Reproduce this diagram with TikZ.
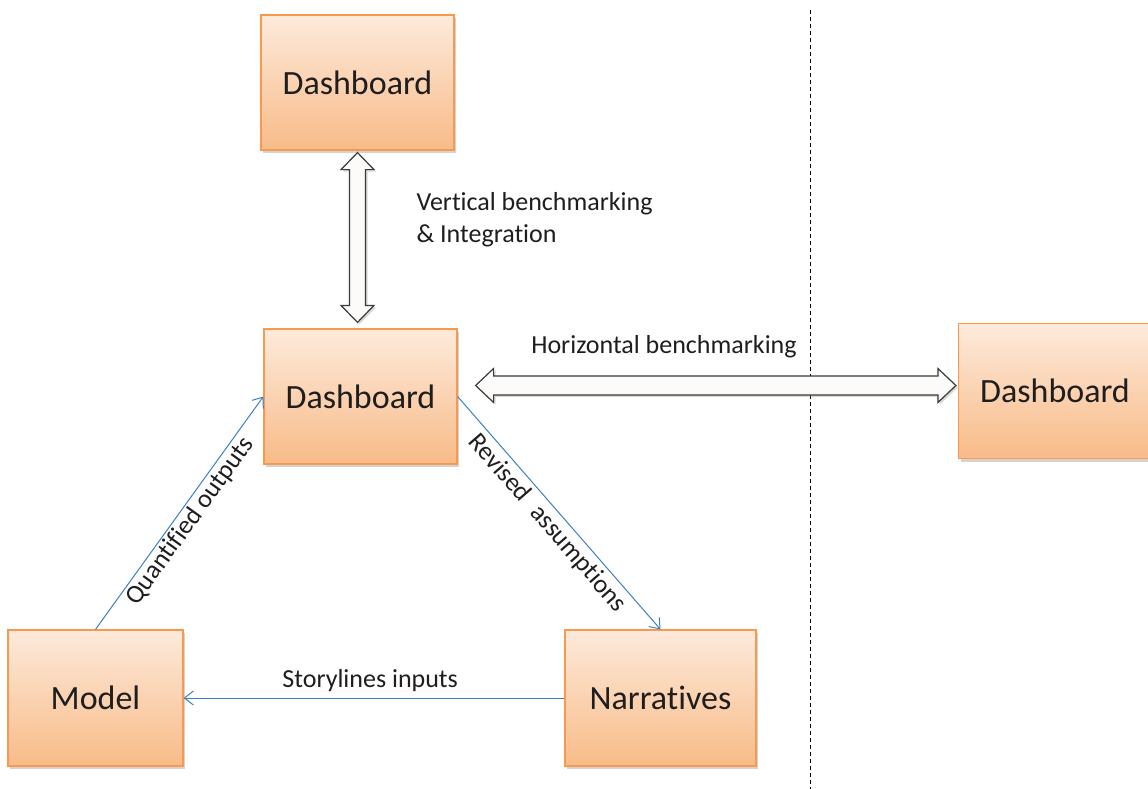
\documentclass[tikz,border=0pt]{standalone}
\usepackage{fontspec}
\setmainfont{Carlito}[Ligatures=NoCommon]
\usetikzlibrary{calc,shadows,arrows.meta}
\definecolor{boxtop}{HTML}{FDEADB}
\definecolor{boxbot}{HTML}{F8BB88}
\definecolor{boxedge}{HTML}{F79A50}
\definecolor{connc}{HTML}{3B7FC4}
\definecolor{txt}{HTML}{1E1E1E}
\definecolor{dblfill}{HTML}{FCFBF9}
\definecolor{dbledge}{HTML}{3A3A3A}
\tikzset{
  box/.style={draw=boxedge, line width=1.2pt, top color=boxtop, bottom color=boxbot,
    minimum width=193pt, minimum height=135pt, inner sep=0pt,
    font=\fontsize{34}{40}\selectfont, text=txt,
    drop shadow={opacity=0.35, shadow xshift=2pt, shadow yshift=-3pt}},
  lbl/.style={font=\fontsize{26}{32}\selectfont, text=txt},
  conn/.style={draw=connc, line width=1pt, -{Straight Barb[length=9pt,width=14pt]}},
  dbl/.style={draw=dbledge, line width=1.2pt, fill=dblfill, line join=miter,
    drop shadow={opacity=0.3, shadow xshift=2pt, shadow yshift=-2pt}},
  divider/.style={draw=black, line width=0.9pt, dash pattern=on 4pt off 3pt}
}
\begin{document}
\begin{tikzpicture}[x=1pt,y=-1pt]
\useasboundingbox (0,0) rectangle (1148,789);
\clip (0,0) rectangle (1148,789);

% divider
\draw[divider] (810,10) -- (810,789);

% boxes
\node[box] (top) at (357.5,82.5) {Dashboard};
\node[box] (mid) at (360.5,396.5) {Dashboard};
\node[box] (right) at (1055,391) {Dashboard};
\node[box, minimum width=175pt, minimum height=136pt] (model) at (95.5,698) {Model};
\node[box, minimum width=191pt, minimum height=136pt] (narr) at (660.5,698) {Narratives};

% vertical double arrow
\path[dbl] let \p1=($(top.south)+(0pt,-2pt)$), \p2=($(mid.north)+(0pt,6pt)$) in
  (\x1,\y1) -- (\x1+16.5pt,\y1-17pt) -- (\x1+8pt,\y1-17pt) -- (\x1+8pt,\y2+17pt)
  -- (\x1+16.5pt,\y2+17pt) -- (\x1,\y2) -- (\x1-16.5pt,\y2+17pt) -- (\x1-8pt,\y2+17pt)
  -- (\x1-8pt,\y1-17pt) -- (\x1-16.5pt,\y1-17pt) -- cycle;

% horizontal double arrow
\path[dbl] let \p1=($(mid.east)+(18pt,11pt)$), \p2=($(right.west)+(-2pt,0pt)$) in
  (\x1,\y1) -- (\x1+18pt,\y1+17pt) -- (\x1+18pt,\y1+9.5pt) -- (\x2-18pt,\y1+9.5pt)
  -- (\x2-18pt,\y1+17pt) -- (\x2,\y1) -- (\x2-18pt,\y1-17pt) -- (\x2-18pt,\y1-9.5pt)
  -- (\x1+18pt,\y1-9.5pt) -- (\x1+18pt,\y1-17pt) -- cycle;

% labels
\node[lbl, align=left, anchor=west] (vlbl) at (413,220) {Vertical benchmarking\\\& Integration};
\node[lbl] (hlbl) at (664,347) {Horizontal benchmarking};

% connectors
\draw[conn] (model.north) -- node[lbl, sloped, below, pos=0.5, inner sep=2pt] (qlbl) {Quantified outputs} (mid.west);
\draw[conn] (mid.east) -- node[lbl, sloped, below, pos=0.5, inner sep=4pt] (rlbl) {Revised\hspace{0.5em}assumptions} (narr.north);
\draw[conn] (narr.west) -- node[lbl, above, pos=0.51, inner sep=6pt] (slbl) {Storylines inputs} (model.east);
\end{tikzpicture}
\end{document}
